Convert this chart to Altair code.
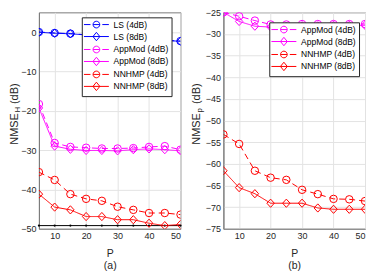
import math
import altair as alt
import pandas as pd

P = [5, 10, 15, 20, 25, 30, 35, 40, 45, 50]

# ---- panel (a): NMSE_H (dB)
ls_4dB = [0.0, -0.25, -0.4, -0.7, -1.0, -1.3, -1.6, -1.9, -2.1, -2.3]
ls_8dB = [-0.05, -0.3, -0.45, -0.75, -1.05, -1.35, -1.65, -1.95, -2.15, -2.35]
appmod_h_4dB = [-18.3, -28.2, -29.2, -29.4, -29.6, -29.6, -29.5, -29.2, -29.0, -29.9]
appmod_h_8dB = [-19.3, -29.0, -29.8, -30.1, -30.1, -30.2, -29.9, -29.7, -29.9, -30.2]
nnhmp_h_4dB = [-35.6, -37.6, -41.2, -42.4, -42.9, -44.4, -45.2, -46.0, -46.0, -46.4]
nnhmp_h_8dB = [-41.2, -44.5, -45.2, -46.9, -46.9, -47.7, -47.7, -48.6, -49.2, -48.9]
bound_h = [-49.2, -49.2, -49.2, -49.2, -49.2, -49.2, -49.2, -49.2, -49.2, -49.2]

# ---- panel (b): NMSE_p (dB)
appmod_p_4dB = [-25.0, -25.9, -26.9, -27.8, -27.8, -27.7, -27.7, -27.7, -27.7, -27.7]
appmod_p_8dB = [-25.0, -27.1, -28.2, -28.4, -28.2, -28.1, -28.1, -28.0, -28.0, -28.0]
nnhmp_p_4dB = [-53.2, -55.4, -61.6, -63.2, -63.7, -66.0, -67.0, -68.1, -68.2, -68.6]
nnhmp_p_8dB = [-61.6, -65.5, -66.9, -69.1, -69.1, -69.1, -70.2, -70.5, -70.5, -70.5]

series_a = ["LS (4dB)", "LS (8dB)", "AppMod (4dB)", "AppMod (8dB)", "NNHMP (4dB)", "NNHMP (8dB)"]
values_a = [ls_4dB, ls_8dB, appmod_h_4dB, appmod_h_8dB, nnhmp_h_4dB, nnhmp_h_8dB]
colors_a = ["#0000ff", "#0000ff", "#ff00ff", "#ff00ff", "#ff0000", "#ff0000"]

series_b = ["AppMod (4dB)", "AppMod (8dB)", "NNHMP (4dB)", "NNHMP (8dB)"]
values_b = [appmod_p_4dB, appmod_p_8dB, nnhmp_p_4dB, nnhmp_p_8dB]
colors_b = ["#ff00ff", "#ff00ff", "#ff0000", "#ff0000"]

x_ticks = [10, 20, 30, 40, 50]
y_ticks_a = [-50, -40, -30, -20, -10, 0]
y_ticks_b = [-75, -70, -65, -60, -55, -50, -45, -40, -35, -30, -25]

FONT = "Liberation Sans"
DIAMOND = "M0,-1.1L1,0L0,1.1L-1,0Z"


def ring(r, n=16):
    pts = ["%.3f,%.3f" % (r * math.cos(2 * math.pi * k / n), r * math.sin(2 * math.pi * k / n))
           for k in range(n)]
    return "M" + "L".join(pts) + "Z"


LEG_CIRCLE = "M-4,0H-1.9M1.9,0H4M-1.07,0H1.07" + ring(1.07)
LEG_DIAMOND = "M-4,0H4M0,-1.35L1.1,0L0,1.35L-1.1,0Z"


def long_df(series, values):
    rows = []
    for s, vals in zip(series, values):
        for p, v in zip(P, vals):
            rows.append({"P": p, "v": v, "series": s})
    return pd.DataFrame(rows)


def panel(series, values, colors, ydom, yticks, sub, tag, legx, legy):
    df = long_df(series, values)
    dashes = [[6, 4] if "4dB" in s else [1, 0] for s in series]
    shapes = ["circle" if "4dB" in s else DIAMOND for s in series]
    leg_shapes = [LEG_CIRCLE if "4dB" in s else LEG_DIAMOND for s in series]
    x = alt.X("P:Q", scale=alt.Scale(domain=[5, 50], nice=False),
              axis=alt.Axis(values=x_ticks, title=["P", tag]))
    y = alt.Y("v:Q", scale=alt.Scale(domain=ydom, nice=False),
              axis=alt.Axis(values=yticks, title=None))
    cscale = alt.Scale(domain=series, range=colors)
    base = alt.Chart(df)
    lines = base.mark_line(strokeWidth=1, clip=True).encode(
        x=x, y=y,
        color=alt.Color("series:N", scale=cscale, legend=None),
        strokeDash=alt.StrokeDash("series:N", scale=alt.Scale(domain=series, range=dashes), legend=None),
    )
    pts = base.mark_point(filled=False, strokeWidth=1, size=56, clip=True, opacity=1).encode(
        x=x, y=y,
        color=alt.Color("series:N", scale=cscale, legend=None),
        shape=alt.Shape("series:N", scale=alt.Scale(domain=series, range=shapes), legend=None),
    )
    layers = [lines, pts]
    if tag == "(a)":
        bdf = pd.DataFrame({"P": P, "v": bound_h})
        bl = alt.Chart(bdf).mark_line(color="black", strokeWidth=1).encode(x=x, y=y)
        bp = alt.Chart(bdf).mark_circle(color="black", size=5, opacity=1).encode(x=x, y=y)
        layers = [bl, bp] + layers
    inner = alt.layer(*layers)
    leg = base.transform_filter("false").mark_point(filled=False, opacity=1, strokeWidth=1).encode(
        color=alt.Color("series:N", scale=cscale,
                        legend=alt.Legend(orient="none", legendX=legx, legendY=legy, title=None,
                                          fillColor="white", strokeColor="#262626", padding=3,
                                          rowPadding=0, symbolSize=39.0625, symbolStrokeWidth=1,
                                          symbolOffset=7.4, labelOffset=13, labelFont=FONT,
                                          labelFontSize=8.5, labelColor="black", labelLimit=300)),
        shape=alt.Shape("series:N", scale=alt.Scale(domain=series, range=leg_shapes)),
    )
    tdf = pd.DataFrame({"a": ["NMSE"], "b": [sub], "c": ["(dB)"]})
    tx = -24 if tag == "(a)" else -26
    ys = 101
    t1 = alt.Chart(tdf).mark_text(angle=270, align="right", baseline="middle", fontSize=11,
                                  font=FONT, color="#262626").encode(
        x=alt.value(tx), y=alt.value(ys), text="a:N")
    t2 = alt.Chart(tdf).mark_text(angle=270, align="left", baseline="middle", fontSize=8,
                                  font=FONT, color="#262626").encode(
        x=alt.value(tx + 3), y=alt.value(ys - 0.5), text="b:N")
    t3 = alt.Chart(tdf).mark_text(angle=270, align="left", baseline="middle", fontSize=11,
                                  font=FONT, color="#262626").encode(
        x=alt.value(tx), y=alt.value(ys - 9), text="c:N")
    return alt.layer(inner, leg, t1, t2, t3).resolve_scale(
        color="independent", shape="independent").properties(width=142, height=217)


left = panel(series_a, values_a, colors_a, [-50, 5], y_ticks_a, "H", "(a)", 43, 5)
right = panel(series_b, values_b, colors_b, [-75, -25], y_ticks_b, "p", "(b)", 46, 10)

chart = alt.hconcat(left, right, spacing=7).properties(
    padding={"left": 0, "top": -1, "right": 0, "bottom": 0}
).configure_view(stroke="#7a7a7a", strokeWidth=1).configure_axis(
    grid=True, gridColor="#e3e3e3", gridWidth=1, ticks=False,
    domainColor="#7a7a7a", domainWidth=1,
    labelFont=FONT, labelFontSize=9, labelColor="#262626", labelPadding=3,
    titleFont=FONT, titleFontSize=10.5, titleFontWeight="normal", titleColor="#262626",
    titlePadding=8, titleLineHeight=11.5,
)

chart.save("out.html", embed_options={"renderer": "svg", "actions": False})
